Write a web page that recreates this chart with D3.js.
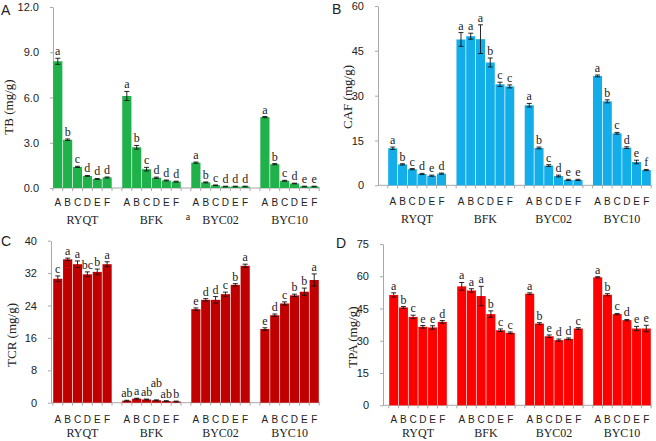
<!DOCTYPE html>
<html>
<head>
<meta charset="utf-8">
<script src="https://cdn.jsdelivr.net/npm/d3@7"></script>
<style>
  body { margin: 0; background: #fff; }
  svg { display: block; }
</style>
</head>
<body>
<div id="chart"></div>
<script>
// datos
var grupos = ["RYQT", "BFK", "BYC02", "BYC10"];
var tratamientos = ["A", "B", "C", "D", "E", "F"];

var tbMedia = [[8.4, 3.2, 1.4, 0.8, 0.6, 0.7], [6.1, 2.7, 1.25, 0.68, 0.5, 0.42], [1.68, 0.37, 0.18, 0.1, 0.1, 0.1], [4.7, 1.58, 0.48, 0.3, 0.1, 0.1]];
var tbError = [[0.2, 0.05, 0.04, 0.03, 0.03, 0.03], [0.3, 0.12, 0.12, 0.04, 0.03, 0.03], [0.04, 0.03, 0.02, 0.02, 0.02, 0.02], [0.04, 0.04, 0.03, 0.02, 0.02, 0.02]];
var tbLetra = [["a", "b", "c", "d", "d", "d"], ["a", "b", "c", "d", "d", "d"], ["a", "b", "c", "d", "d", "d"], ["a", "b", "c", "d", "e", "e"]];
var tbTicks = [0, 3, 6, 9, 12];

var cafMedia = [[12.4, 7.0, 5.4, 3.8, 3.2, 3.9], [48.8, 49.9, 48.9, 41.1, 33.8, 33.1], [26.8, 12.5, 6.6, 3.1, 1.8, 1.8], [36.6, 28.1, 17.4, 12.6, 7.8, 5.1]];
var cafError = [[0.4, 0.2, 0.2, 0.2, 0.2, 0.2], [2.3, 1.0, 4.8, 1.5, 0.7, 0.5], [0.6, 0.3, 0.3, 0.3, 0.2, 0.2], [0.3, 0.5, 0.3, 0.3, 0.6, 0.2]];
var cafLetra = [["a", "b", "c", "d", "e", "d"], ["a", "a", "a", "b", "c", "c"], ["a", "b", "c", "d", "e", "e"], ["a", "b", "c", "d", "e", "f"]];
var cafTicks = [0, 15, 30, 45, 60];

var tcrMedia = [[30.6, 35.4, 34.2, 31.7, 32.3, 34.2], [0.5, 1.0, 0.8, 0.6, 0.4, 0.3], [23.1, 25.4, 25.4, 26.8, 29.1, 33.8], [18.2, 21.6, 24.5, 26.5, 27.4, 30.3]];
var tcrError = [[0.7, 0.3, 0.8, 0.6, 0.7, 0.6], [0.1, 0.1, 0.1, 0.1, 0.1, 0.1], [0.3, 0.3, 0.8, 0.5, 0.3, 0.4], [0.3, 0.3, 0.4, 0.3, 0.9, 1.5]];
var tcrLetra = [["c", "a", "a", "bc", "b", "a"], ["ab", "a", "ab", "ab", "ab", "b"], ["e", "d", "d", "c", "b", "a"], ["e", "d", "c", "b", "b", "a"]];
var tcrTicks = [0, 8, 16, 24, 32, 40];

var tpaMedia = [[51.3, 45.5, 41.1, 36.5, 36.2, 38.8], [55.3, 53.4, 50.8, 42.4, 34.9, 33.7], [51.9, 38.0, 32.1, 30.3, 30.9, 35.7], [59.5, 51.4, 42.4, 39.6, 35.7, 35.7]];
var tpaError = [[1.0, 0.4, 0.8, 0.6, 0.8, 0.6], [1.8, 0.8, 4.5, 1.5, 0.6, 0.4], [0.4, 0.4, 0.6, 0.5, 0.4, 0.4], [0.3, 0.5, 0.3, 0.3, 1.0, 1.5]];
var tpaLetra = [["a", "b", "c", "e", "e", "d"], ["a", "a", "a", "b", "c", "c"], ["a", "b", "e", "d", "d", "c"], ["a", "b", "c", "d", "e", "e"]];
var tpaTicks = [0, 15, 30, 45, 60, 75];

var ancho = 656, alto = 441;
var colorEje = "#a8a8a8";
var sans = "'Liberation Sans', Arial, sans-serif";
var serif = "'Liberation Serif', 'Times New Roman', serif";

var paneles = [
  {letra: "A", lx: 1, ly: 15, ejeX: 53, x0: 53, x1: 319, y0: 188, yTop: 7, ticks: tbTicks, fmt: ".1f",
   titulo: "TB (mg/g)", tx: 8, ty: 107, color: "#20b14b", media: tbMedia, error: tbError, letras: tbLetra, catY: 206, grpY: 224},
  {letra: "B", lx: 332, ly: 14, ejeX: 378, x0: 388, x1: 651, y0: 185.3, yTop: 6, ticks: cafTicks, fmt: "d",
   titulo: "CAF (mg/g)", tx: 347, ty: 97, color: "#13aeea", media: cafMedia, error: cafError, letras: cafLetra, catY: 205, grpY: 223},
  {letra: "C", lx: 1, ly: 246, ejeX: 51, x0: 53, x1: 319, y0: 402.7, yTop: 240.7, ticks: tcrTicks, fmt: "d",
   titulo: "TCR (mg/g)", tx: 11, ty: 335, color: "#c00000", media: tcrMedia, error: tcrError, letras: tcrLetra, catY: 423, grpY: 437},
  {letra: "D", lx: 336, ly: 248, ejeX: 383, x0: 389, x1: 651, y0: 405.3, yTop: 244, ticks: tpaTicks, fmt: "d",
   titulo: "TPA (mg/g)", tx: 352, ty: 337, color: "#ff0000", media: tpaMedia, error: tpaError, letras: tpaLetra, catY: 423, grpY: 437}
];

// ranuras: 6 barras por grupo y un hueco entre grupos
var ranuras = [];
grupos.forEach(function(g, gi) {
  tratamientos.forEach(function(t) { ranuras.push(g + "|" + t); });
  if (gi < grupos.length - 1) ranuras.push("hueco" + gi);
});

var svg = d3.select("#chart").append("svg")
  .attr("width", ancho)
  .attr("height", alto);

function panel(p) {
  var g = svg.append("g");

  var x = d3.scaleBand()
    .domain(ranuras)
    .range([p.x0, p.x1])
    .paddingInner(0.07)
    .paddingOuter(0.02);
  var y = d3.scaleLinear()
    .domain([0, d3.max(p.ticks)])
    .range([p.y0, p.yTop]);

  // eje Y
  var yAxis = d3.axisLeft(y)
    .tickValues(p.ticks)
    .tickSize(3)
    .tickSizeOuter(0)
    .tickPadding(11)
    .tickFormat(d3.format(p.fmt));
  var yG = g.append("g")
    .attr("transform", "translate(" + p.ejeX + ",0)")
    .call(yAxis);
  yG.select(".domain").attr("stroke", colorEje);
  yG.selectAll(".tick line").attr("stroke", colorEje);
  yG.selectAll(".tick text")
    .attr("fill", "#222")
    .style("font-family", sans)
    .style("font-size", "11px");

  // eje X con marcas entre categorias
  g.append("line")
    .attr("x1", p.ejeX).attr("x2", p.x1 + 1)
    .attr("y1", p.y0).attr("y2", p.y0)
    .attr("stroke", colorEje);
  var paso = x.step();
  var bordes = ranuras.map(function(r) { return x(r) - paso * x.paddingInner() / 2; });
  bordes.push(bordes[bordes.length - 1] + paso);
  g.selectAll(".xtick").data(bordes).enter().append("line")
    .attr("class", "xtick")
    .attr("x1", function(d) { return d; }).attr("x2", function(d) { return d; })
    .attr("y1", p.y0).attr("y2", p.y0 + 3)
    .attr("stroke", colorEje);

  // datos planos
  var filas = [];
  grupos.forEach(function(gr, gi) {
    tratamientos.forEach(function(t, ti) {
      filas.push({clave: gr + "|" + t, t: t, v: p.media[gi][ti], e: p.error[gi][ti], l: p.letras[gi][ti]});
    });
  });

  // barras
  g.selectAll(".bar").data(filas).enter().append("rect")
    .attr("class", "bar")
    .attr("x", function(d) { return x(d.clave); })
    .attr("y", function(d) { return y(d.v); })
    .attr("width", x.bandwidth())
    .attr("height", function(d) { return p.y0 - y(d.v); })
    .attr("fill", p.color);

  // barras de error
  var eg = g.selectAll(".err").data(filas).enter().append("g")
    .attr("class", "err")
    .attr("stroke", "#111")
    .attr("stroke-width", 0.9);
  eg.append("line")
    .attr("x1", function(d) { return x(d.clave) + x.bandwidth() / 2; })
    .attr("x2", function(d) { return x(d.clave) + x.bandwidth() / 2; })
    .attr("y1", function(d) { return y(d.v - d.e); })
    .attr("y2", function(d) { return y(d.v + d.e); });
  [1, -1].forEach(function(s) {
    eg.append("line")
      .attr("x1", function(d) { return x(d.clave) + x.bandwidth() / 2 - 2.5; })
      .attr("x2", function(d) { return x(d.clave) + x.bandwidth() / 2 + 2.5; })
      .attr("y1", function(d) { return y(d.v + s * d.e); })
      .attr("y2", function(d) { return y(d.v + s * d.e); });
  });

  // letras de significancia; si dos etiquetas largas chocan, se sube una
  var subida = [];
  filas.forEach(function(d, i) {
    var prev = i > 0 && filas[i - 1].clave.split("|")[0] === d.clave.split("|")[0] ? i - 1 : -1;
    subida.push(d.l.length > 1 && prev >= 0 && filas[prev].l.length > 1 && !subida[prev] ? 1 : 0);
  });
  g.selectAll(".sig").data(filas).enter().append("text")
    .attr("class", "sig")
    .attr("x", function(d) { return x(d.clave) + x.bandwidth() / 2; })
    .attr("y", function(d, i) { return y(d.v + d.e) - 3 - subida[i] * 10; })
    .attr("text-anchor", "middle")
    .style("font-family", serif)
    .style("font-size", "12px")
    .attr("fill", "#222")
    .text(function(d) { return d.l; });

  // etiquetas de tratamiento
  g.selectAll(".cat").data(filas).enter().append("text")
    .attr("class", "cat")
    .attr("x", function(d) { return x(d.clave) + x.bandwidth() / 2; })
    .attr("y", p.catY)
    .attr("text-anchor", "middle")
    .style("font-family", sans)
    .style("font-size", "10px")
    .attr("fill", "#222")
    .text(function(d) { return d.t; });

  // etiquetas de grupo
  g.selectAll(".grp").data(grupos).enter().append("text")
    .attr("class", "grp")
    .attr("x", function(d) {
      return (x(d + "|A") + x(d + "|F") + x.bandwidth()) / 2;
    })
    .attr("y", p.grpY)
    .attr("text-anchor", "middle")
    .style("font-family", serif)
    .style("font-size", "12px")
    .attr("fill", "#222")
    .text(function(d) { return d; });

  // titulo eje Y
  g.append("text")
    .attr("transform", "translate(" + p.tx + "," + p.ty + ") rotate(-90)")
    .attr("text-anchor", "middle")
    .attr("dominant-baseline", "central")
    .style("font-family", serif)
    .style("font-size", "13px")
    .attr("fill", "#222")
    .text(p.titulo);

  // letra del panel
  g.append("text")
    .attr("x", p.lx)
    .attr("y", p.ly)
    .style("font-family", sans)
    .style("font-size", "14px")
    .attr("fill", "#222")
    .text(p.letra);
}

paneles.forEach(panel);

// la "a" suelta que aparece bajo el panel A
svg.append("text")
  .attr("x", 188)
  .attr("y", 220)
  .attr("text-anchor", "middle")
  .style("font-family", serif)
  .style("font-size", "10px")
  .attr("fill", "#222")
  .text("a");
</script>
</body>
</html>
